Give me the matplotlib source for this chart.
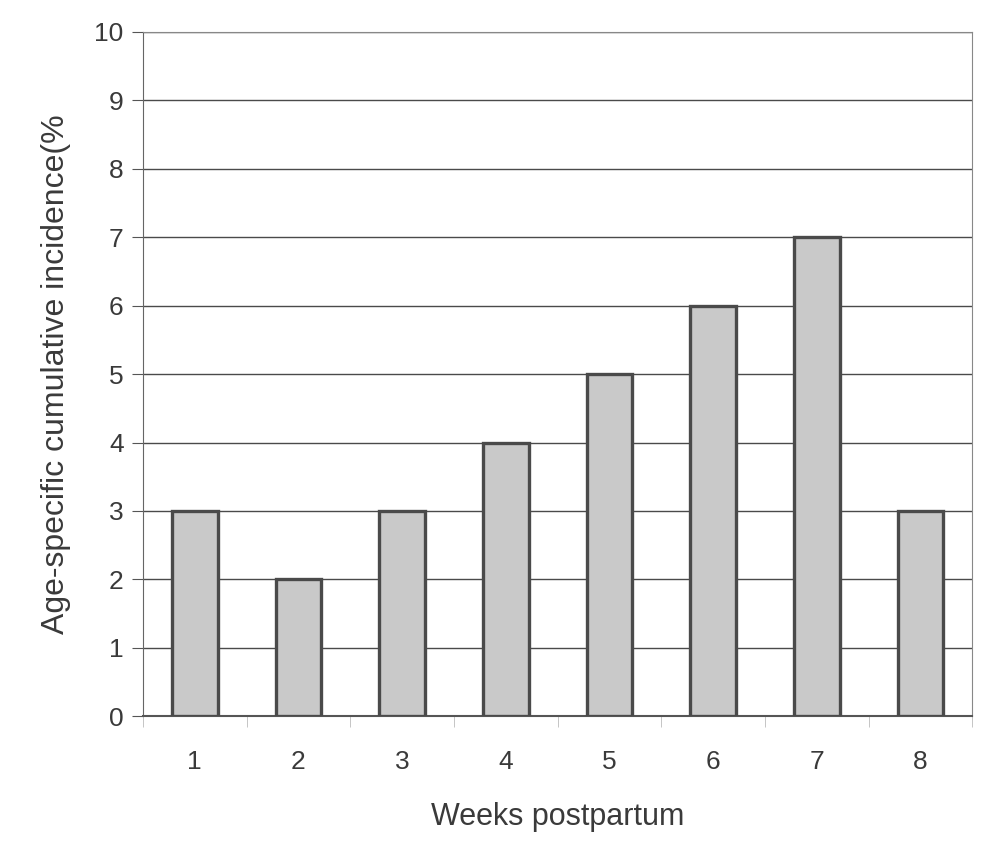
import matplotlib.pyplot as plt
import numpy as np

plt.rcParams['font.family'] = ['Liberation Sans', 'DejaVu Sans']

# data
weeks = ["1", "2", "3", "4", "5", "6", "7", "8"]
incidence = [3, 2, 3, 4, 5, 6, 7, 3]
y_ticks = [0, 1, 2, 3, 4, 5, 6, 7, 8, 9, 10]

fig = plt.figure(figsize=(10.04, 8.63), dpi=100)
ax = fig.add_axes([0.1424, 0.170, 0.826, 0.793])

x = np.arange(len(weeks))
ax.bar(x, incidence, width=0.44, color="#c9c9c9", edgecolor="#4a4a4a",
       linewidth=2.4, zorder=3)

ax.set_xlim(-0.5, len(weeks) - 0.5)
ax.set_ylim(0, 10)
ax.set_yticks(y_ticks)
ax.set_xticks(x)
ax.set_xticklabels(weeks)
ax.set_xticks(np.arange(len(weeks) + 1) - 0.5, minor=True)
ax.tick_params(axis="x", which="major", length=0, pad=24)
ax.tick_params(axis="x", which="minor", length=8, color="#bbbbbb")
ax.tick_params(axis="y", length=8, color="#555555", pad=6)
ax.tick_params(labelsize=19, labelcolor="#3a3a3a")

ax.grid(axis="y", color="#4a4a4a", linewidth=1.0, zorder=0)
for side in ["top", "right"]:
    ax.spines[side].set_color("#888888")
ax.spines["left"].set_color("#666666")
ax.spines["bottom"].set_color("#555555")
ax.spines["bottom"].set_linewidth(1.5)

ax.set_xlabel("Weeks postpartum", fontsize=22, color="#3a3a3a")
ax.set_ylabel("Age-specific cumulative incidence(%", fontsize=23,
              color="#3a3a3a")
ax.xaxis.set_label_coords(0.5, -0.125)
ax.yaxis.set_label_coords(-0.087, 0.5)

fig.savefig("out.png", dpi=100)
